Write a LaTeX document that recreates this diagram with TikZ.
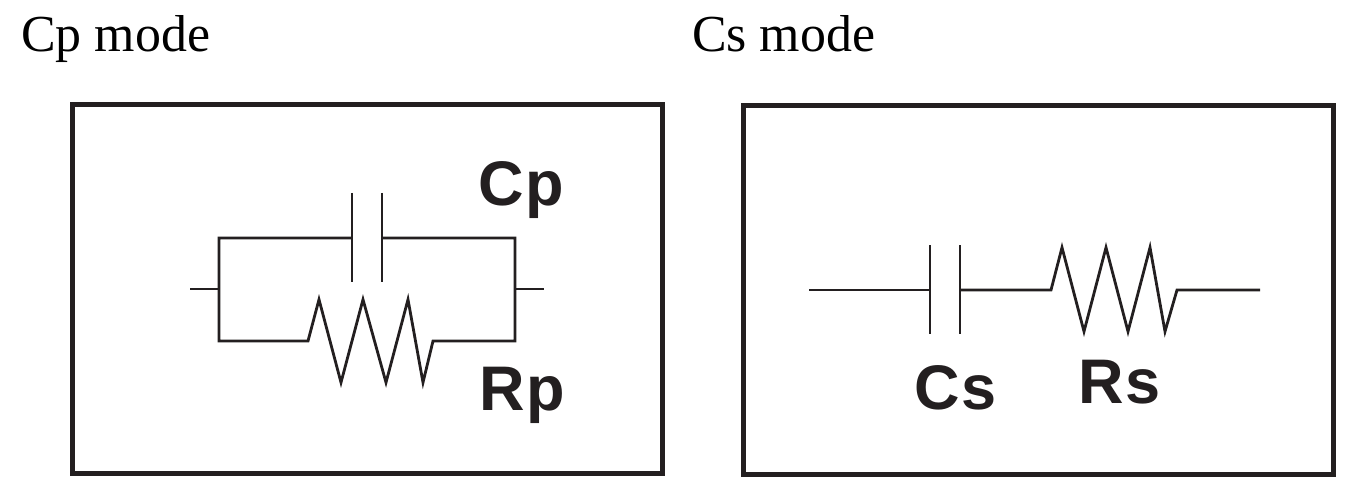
\documentclass[tikz,border=0pt]{standalone}
\usepackage{fontspec}
\setmainfont{Liberation Serif}
\newfontfamily\labelfont{Liberation Sans}[LetterSpace=3]
\definecolor{ink}{HTML}{231F20}
\tikzset{
  x=1pt,y=-1pt,
  panel/.style={draw=ink,line width=4.6pt,minimum width=590pt,minimum height=369pt,inner sep=0pt},
  wire/.style={draw=ink,line width=2.8pt,line join=miter,miter limit=10},
  modetext/.style={anchor=base west,inner sep=0pt,text=black,font=\fontsize{51.9pt}{56pt}\selectfont},
  parttext/.style={anchor=base west,inner sep=0pt,text=ink,font=\labelfont\bfseries\fontsize{63pt}{68pt}\selectfont}
}
\begin{document}
\begin{tikzpicture}
\useasboundingbox (0,0) rectangle (1346,489);
\node[modetext] (modeP) at (21,51.5) {Cp mode};
\node[modetext] (modeS) at (692,51.5) {Cs mode};
\node[panel] (boxP) at (367.3,289) {};
\node[panel] (boxS) at (1038.3,290) {};
\node[parttext] (labCp) at (478,205) {Cp};
\node[parttext] (labRp) at (479,410.5) {Rp};
\node[parttext] (labCs) at (914,409) {Cs};
\node[parttext] (labRs) at (1078,403.5) {Rs};
% parallel circuit
\coordinate (pL) at (190,289);
\coordinate (pJL) at (219,289);
\coordinate (pTL) at (219,238);
\coordinate (pBL) at (219,341);
\coordinate (pJR) at (515,289);
\coordinate (pTR) at (515,238);
\coordinate (pBR) at (515,341);
\coordinate (pR) at (544,289);
\coordinate (pC1t) at (352,193);
\coordinate (pC1b) at (352,282);
\coordinate (pC1m) at (352,238);
\coordinate (pC2t) at (382,193);
\coordinate (pC2b) at (382,282);
\coordinate (pC2m) at (382,238);
\coordinate (pr0) at (308,341);
\coordinate (pr1) at (319,299.5);
\coordinate (pr2) at (341,382.5);
\coordinate (pr3) at (363,299.5);
\coordinate (pr4) at (386,382.5);
\coordinate (pr5) at (408,299.5);
\coordinate (pr6) at (423,382.5);
\coordinate (pr7) at (433,341);
\draw[wire] (pL) -- (pJL);
\draw[wire] (pJR) -- (pR);
\draw[wire] (pC1m) -- (pTL) -- (pBL) -- (pr0) -- (pr1) -- (pr2) -- (pr3) -- (pr4) -- (pr5) -- (pr6) -- (pr7) -- (pBR) -- (pTR) -- (pC2m);
\draw[wire] (pC1t) -- (pC1b);
\draw[wire] (pC2t) -- (pC2b);
% series circuit
\coordinate (sL) at (809,290);
\coordinate (sC1t) at (930,245);
\coordinate (sC1b) at (930,334);
\coordinate (sC1m) at (930,290);
\coordinate (sC2t) at (960,245);
\coordinate (sC2b) at (960,334);
\coordinate (sC2m) at (960,290);
\coordinate (sr0) at (1051,290);
\coordinate (sr1) at (1062,247.5);
\coordinate (sr2) at (1084,331.5);
\coordinate (sr3) at (1106,247.5);
\coordinate (sr4) at (1128,331.5);
\coordinate (sr5) at (1150,247.5);
\coordinate (sr6) at (1165,331.5);
\coordinate (sr7) at (1177,290);
\coordinate (sR) at (1260,290);
\draw[wire] (sL) -- (sC1m);
\draw[wire] (sC1t) -- (sC1b);
\draw[wire] (sC2t) -- (sC2b);
\draw[wire] (sC2m) -- (sr0) -- (sr1) -- (sr2) -- (sr3) -- (sr4) -- (sr5) -- (sr6) -- (sr7) -- (sR);
\end{tikzpicture}
\end{document}
